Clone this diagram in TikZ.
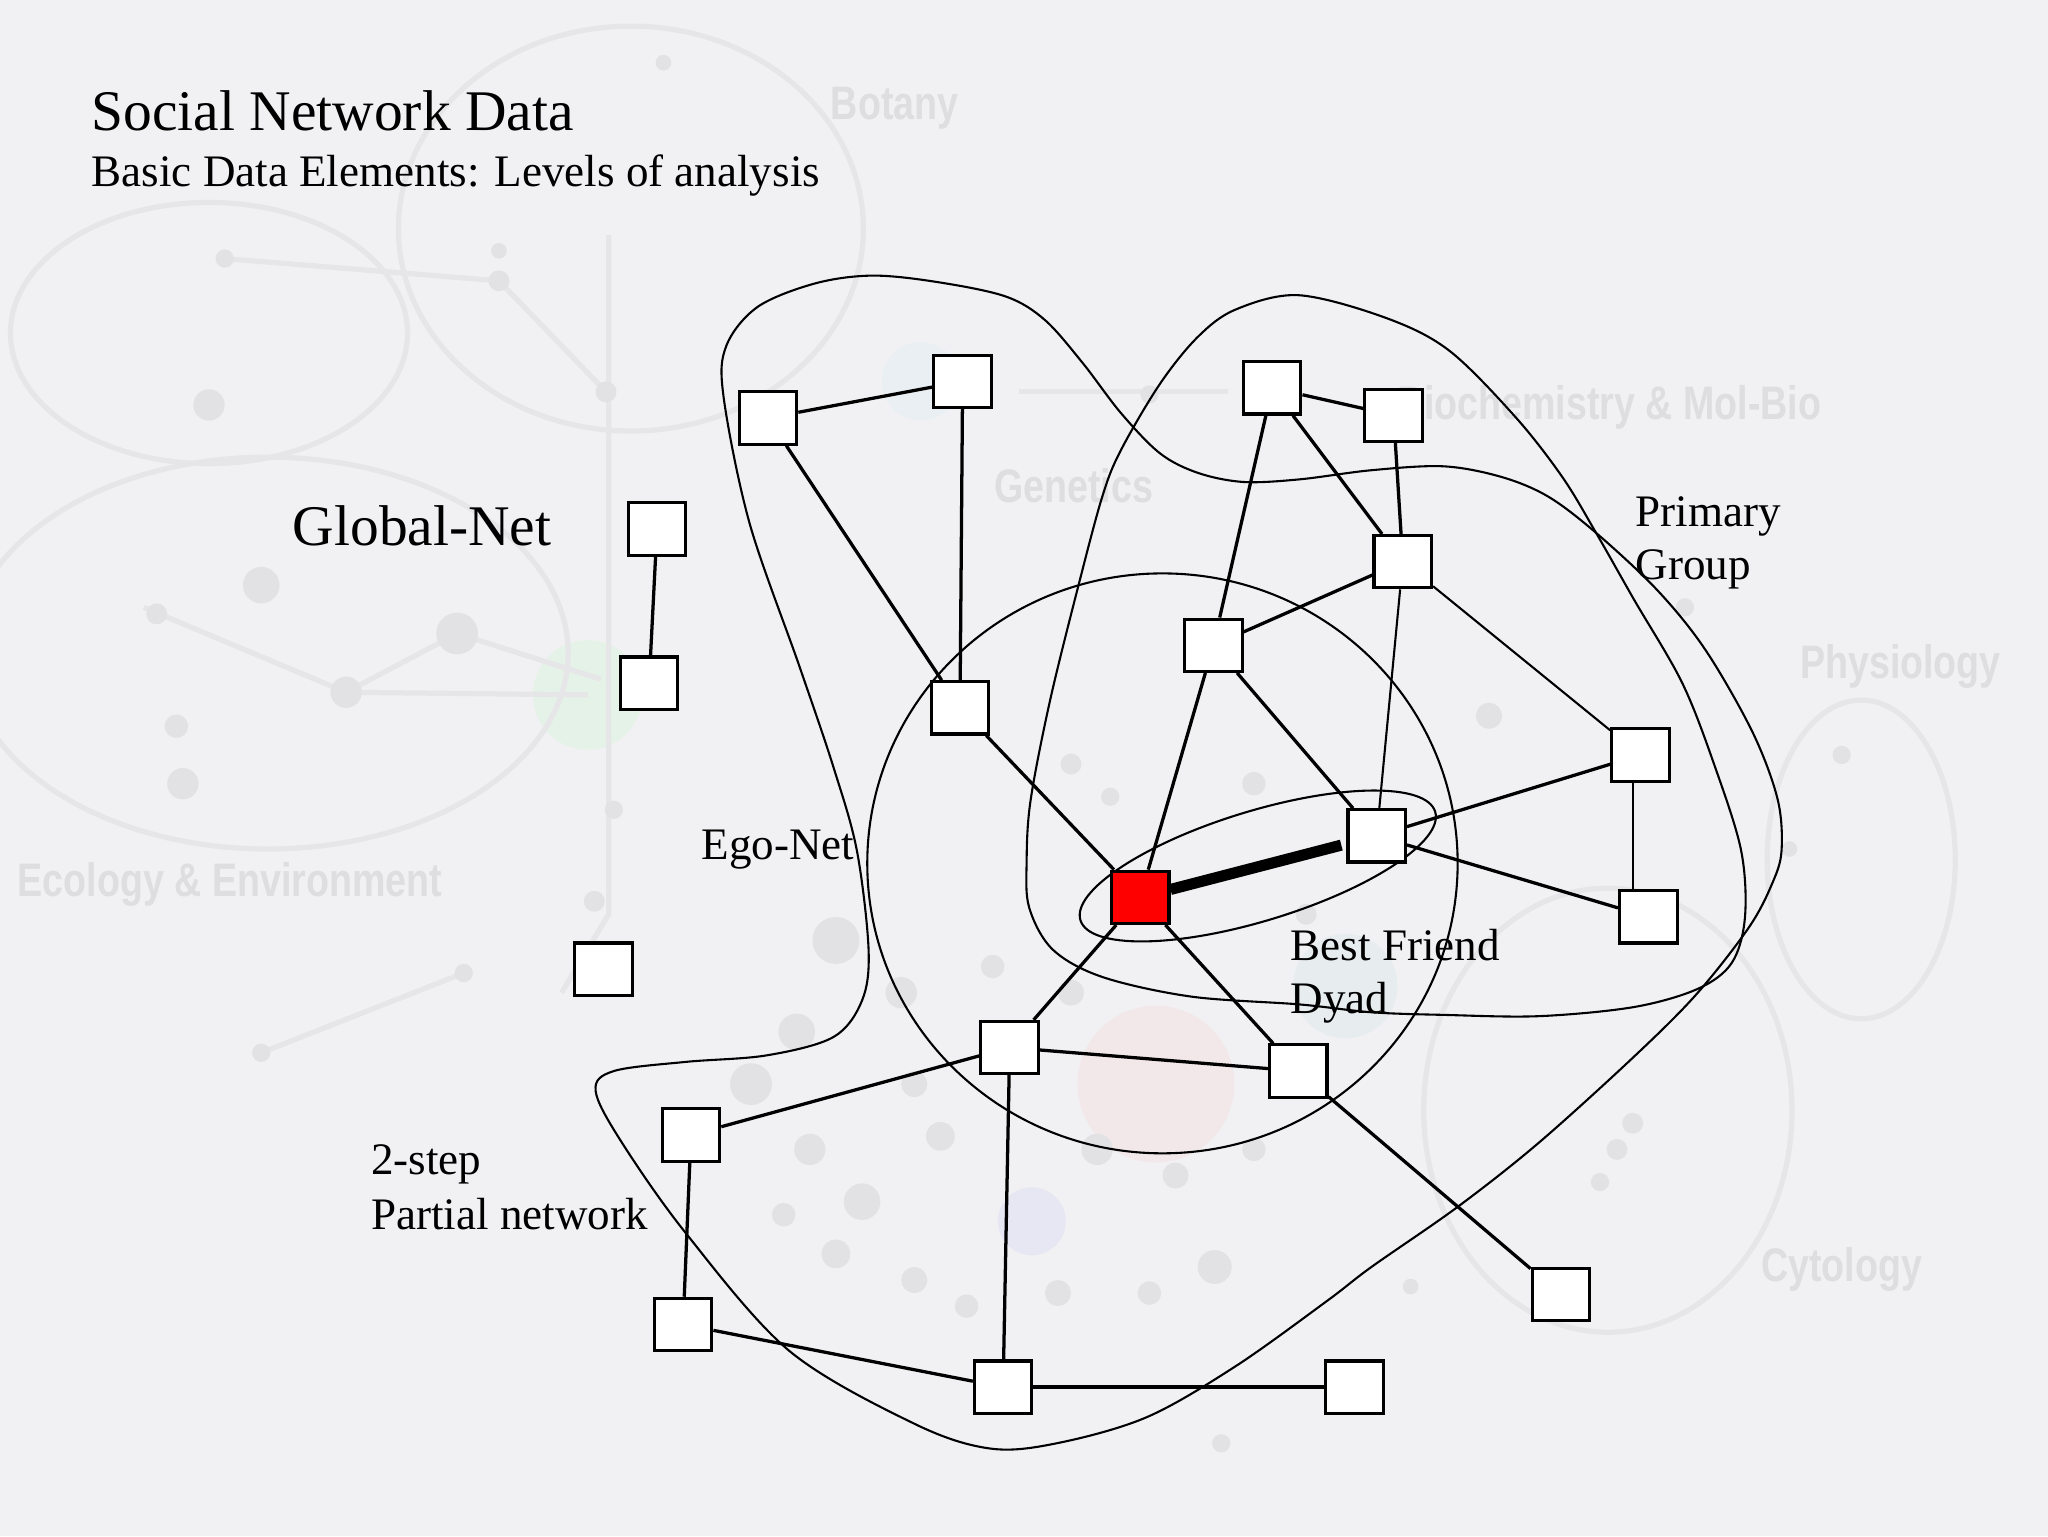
\documentclass[tikz,border=0pt]{standalone}
\usepackage{fontspec}
\setmainfont{Liberation Serif}
\newfontfamily\bgsans{Liberation Sans}
\definecolor{bgc}{HTML}{F1F1F3}
\definecolor{fadeline}{HTML}{E6E6E9}
\definecolor{fadedot}{HTML}{E2E2E5}
\definecolor{fadetext}{HTML}{DEDEE1}
\begin{document}
\begin{tikzpicture}[x=1pt,y=-1pt,
  box/.style={draw=black, fill=white, line width=2.4pt, minimum width=44pt, minimum height=40pt, inner sep=0pt},
  egobox/.style={box, fill=red},
  tie/.style={line width=2.5pt},
  thintie/.style={line width=1.6pt},
  dyadtie/.style={line width=8.5pt},
  hull/.style={line width=1.6pt},
  lbl/.style={anchor=base west, inner sep=0pt, font=\fontsize{34.5}{40}\selectfont},
  biglbl/.style={anchor=base west, inner sep=0pt, font=\fontsize{44}{50}\selectfont},
  fline/.style={draw=fadeline, line width=4pt},
  fdot/.style={fill=fadedot},
  flbl/.style={inner sep=0pt, text=fadetext, font=\bgsans\bfseries\fontsize{36}{40}\selectfont}
]
\useasboundingbox (0,0) rectangle (1568,1176);
\fill[bgc] (0,0) rectangle (1568,1176);

% ---------- faded background map ----------
\fill[fill=green!5!bgc] (450,532) circle (42);
\fill[fill=cyan!4!bgc] (705,292) circle (30);
\fill[fill=red!4!bgc] (885,830) circle (60);
\fill[fill=blue!4!bgc] (790,935) circle (26);
\fill[fill=teal!4!bgc] (1030,755) circle (40);
\draw[fline] (483,175) ellipse [x radius=178, y radius=155];
\draw[fline] (160,255) ellipse [x radius=152, y radius=100];
\draw[fline] (205,500) ellipse [x radius=230, y radius=150];
\draw[fline] (1425,658) ellipse [x radius=72, y radius=122];
\draw[fline] (1231,850) ellipse [x radius=141, y radius=170];
\draw[fline] (466,180) -- (466,700) -- (430,760);
\draw[fline] (110,465) -- (265,530) -- (450,532);
\draw[fline] (265,530) -- (350,485) -- (460,520);
\draw[fline] (355,745) -- (200,806);
\draw[fline] (780,300) -- (940,300);
\draw[fline] (172,198) -- (382,215) -- (464,300);
\foreach \p/\r in {(508,48)/6,(172,198)/7,(160,310)/12,(382,192)/6,(382,215)/8,(464,300)/8,
  (200,448)/14,(120,470)/8,(265,530)/12,(350,485)/16,(140,600)/12,(135,556)/9,(355,745)/7,
  (200,806)/7,(880,302)/7,(1140,548)/10,(1410,578)/7,(1250,860)/8,(1238,880)/8,(1225,905)/7,
  (470,620)/7,(455,690)/8,(1290,465)/7,(1080,985)/6,(935,1105)/7,(1370,650)/6}
  \fill[fdot] \p circle (\r);
\foreach \p/\r in {(610,790)/14,(640,720)/18,(690,760)/12,(575,830)/16,(620,880)/12,(660,920)/14,
  (720,870)/11,(700,980)/10,(760,740)/9,(820,760)/10,(840,880)/12,(900,900)/10,(930,970)/13,
  (880,990)/9,(810,990)/10,(740,1000)/9,(640,960)/11,(600,930)/9,(700,830)/10,(960,880)/9,
  (820,585)/8,(850,610)/7,(960,600)/9,(1000,700)/8}
  \fill[fdot] \p circle (\r);
\node[flbl] (fbot) at (685,83) {\scalebox{0.8}[1]{Botany}};
\node[flbl] (fbio) at (1232,312) {\scalebox{0.8}[1]{Biochemistry \& Mol-Bio}};
\node[flbl] (fgen) at (822,372) {\scalebox{0.8}[1]{Genetics}};
\node[flbl] (fphy) at (1455,510) {\scalebox{0.8}[1]{Physiology}};
\node[flbl] (fcyt) at (1410,972) {\scalebox{0.8}[1]{Cytology}};
\node[flbl] (feco) at (176,677) {\scalebox{0.8}[1]{Ecology \& Environment}};

% ---------- enclosing curves ----------
% 2-step partial network
\draw[hull] plot[smooth cycle, tension=0.55] coordinates {
 (556,265) (580,235) (624,217) (668,211) (718,216) (770,227) (800,245) (829,278)
 (858,316) (888,347) (917,362) (952,369) (995,367) (1050,360) (1105,357) (1149,365)
 (1185,380) (1222,408) (1269,452) (1306,498) (1342,561) (1361,612) (1364,651) (1357,676)
 (1339,710) (1299,761) (1251,809) (1178,875) (1116,924) (1050,970) (1016,996) (946,1046)
 (878,1085) (809,1105) (758,1109) (700,1090) (604,1034) (525,944) (475,873) (456,835)
 (470,820) (525,813) (587,808) (638,794) (660,766) (665,727) (656,651) (638,587)
 (612,510) (574,401) (554,304)};
% primary group
\draw[hull] plot[smooth cycle, tension=0.55] coordinates {
 (994,226) (1060,243) (1109,268) (1160,319) (1196,365) (1222,408) (1251,459) (1288,523)
 (1313,587) (1333,651) (1336,702) (1326,737) (1300,757) (1251,771) (1178,778) (1105,777)
 (1050,775) (995,769) (912,763) (844,748) (806,727) (788,695) (786,660) (789,613)
 (804,536) (826,447) (844,380) (858,345) (888,294) (917,258) (946,237)};
% ego-net
\draw[hull] (890,661) ellipse [x radius=226, y radius=222];
% best friend dyad
\draw[hull, rotate around={17:(963,663)}] (963,663) ellipse [x radius=142, y radius=42];

% ---------- nodes ----------
\node[box] (A) at (588,320) {};
\node[box] (B) at (737,292) {};
\node[box] (G1) at (503,405) {};
\node[box] (G2) at (497,523) {};
\node[box] (C) at (735,542) {};
\node[box] (X) at (462,742) {};
\node[box] (D) at (529,869) {};
\node[box] (E) at (523,1014) {};
\node[box] (F) at (768,1062) {};
\node[box] (H) at (773,802) {};
\node[egobox] (ego) at (873,687) {};
\node[box] (bf) at (1054,640) {};
\node[box] (I) at (994,820) {};
\node[box] (J) at (1195,991) {};
\node[box] (K) at (1037,1062) {};
\node[box] (L) at (1262,702) {};
\node[box] (M) at (1256,578) {};
\node[box] (N) at (974,297) {};
\node[box] (O) at (1067,318) {};
\node[box] (P) at (1074,430) {};
\node[box] (Q) at (929,494) {};

% ---------- ties ----------
\draw[tie] (A) -- (B);
\draw[tie] (A) -- (C);
\draw[tie] (B) -- (C);
\draw[tie] (G1) -- (G2);
\draw[tie] (C) -- (ego);
\draw[tie] (ego) -- (Q);
\draw[dyadtie, shorten >=4pt] (ego) -- (bf);
\draw[tie] (ego) -- (H);
\draw[tie] (ego) -- (I);
\draw[tie] (N) -- (O);
\draw[tie] (N) -- (Q);
\draw[tie] (N) -- (P);
\draw[tie] (O) -- (P);
\draw[tie] (Q) -- (P);
\draw[tie] (Q) -- (bf);
\draw[thintie] (P) -- (bf);
\draw[thintie] (P) -- (M);
\draw[tie] (bf) -- (M);
\draw[tie] (bf) -- (L);
\draw[thintie] ([xshift=-6pt]M.south) -- ([xshift=-12pt]L.north);
\draw[tie] (H) -- (D);
\draw[tie] (H) -- (I);
\draw[tie] (H) -- (F);
\draw[tie] (D) -- (E);
\draw[tie] (E) -- (F);
\draw[tie] (F) -- (K);
\draw[tie] (I) -- (J);

% ---------- labels ----------
\node[biglbl] (title) at (70,100) {Social Network Data};
\node[lbl] (sub) at (70,143) {Basic Data Elements: Levels of analysis};
\node[biglbl] (glob) at (224,418) {Global-Net};
\node[lbl] (egonet) at (537,658) {Ego-Net};
\node[lbl] (pg1) at (1252,403) {Primary};
\node[lbl] (pg2) at (1252,444) {Group};
\node[lbl] (bf1) at (988,735) {Best Friend};
\node[lbl] (bf2) at (988,776) {Dyad};
\node[lbl] (ts1) at (284,899) {2-step};
\node[lbl] (ts2) at (284,941) {Partial network};
\end{tikzpicture}
\end{document}
